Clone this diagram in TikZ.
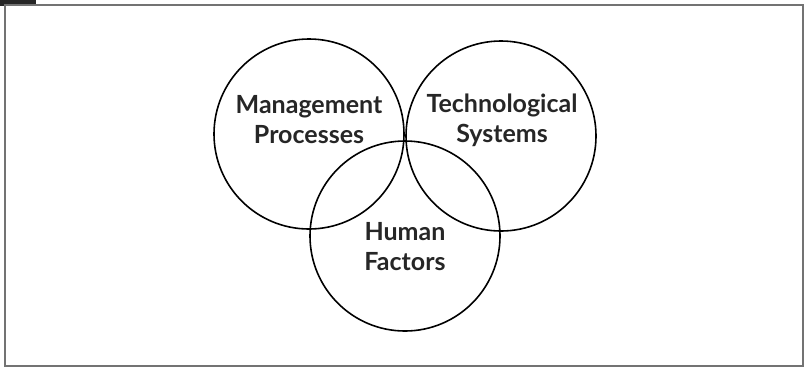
\documentclass[tikz,border=0pt]{standalone}
\usepackage{fontspec}
\setmainfont{Lato}
\usetikzlibrary{positioning}
\tikzset{
	ring/.style={circle,draw,line width=1.6pt,minimum size=190pt,inner sep=0pt},
	tag/.style={align=center,font=\fontsize{25}{30}\selectfont\bfseries,text=black!85}
}
\begin{document}
\begin{tikzpicture}[x=1pt,y=-1pt]
\useasboundingbox (0,0) rectangle (805,368);

% frame
\fill[black!85] (0,0) rectangle (36,5.5);
\draw[black!55,line width=1.4pt] (5,5) rectangle (803,366);

% the three circles
\node[ring] (mgmt) at (309,134) {};
\node[ring] (tech) at (501,136) {};
\node[ring] (human) at (405,236) {};

\node[tag] (mgmtT) at (309,120) {Management\\Processes};
\node[tag] (techT) at (502,120) {Technological\\Systems};
\node[tag] (humanT) at (405,247) {Human\\Factors};
\end{tikzpicture}
\end{document}
